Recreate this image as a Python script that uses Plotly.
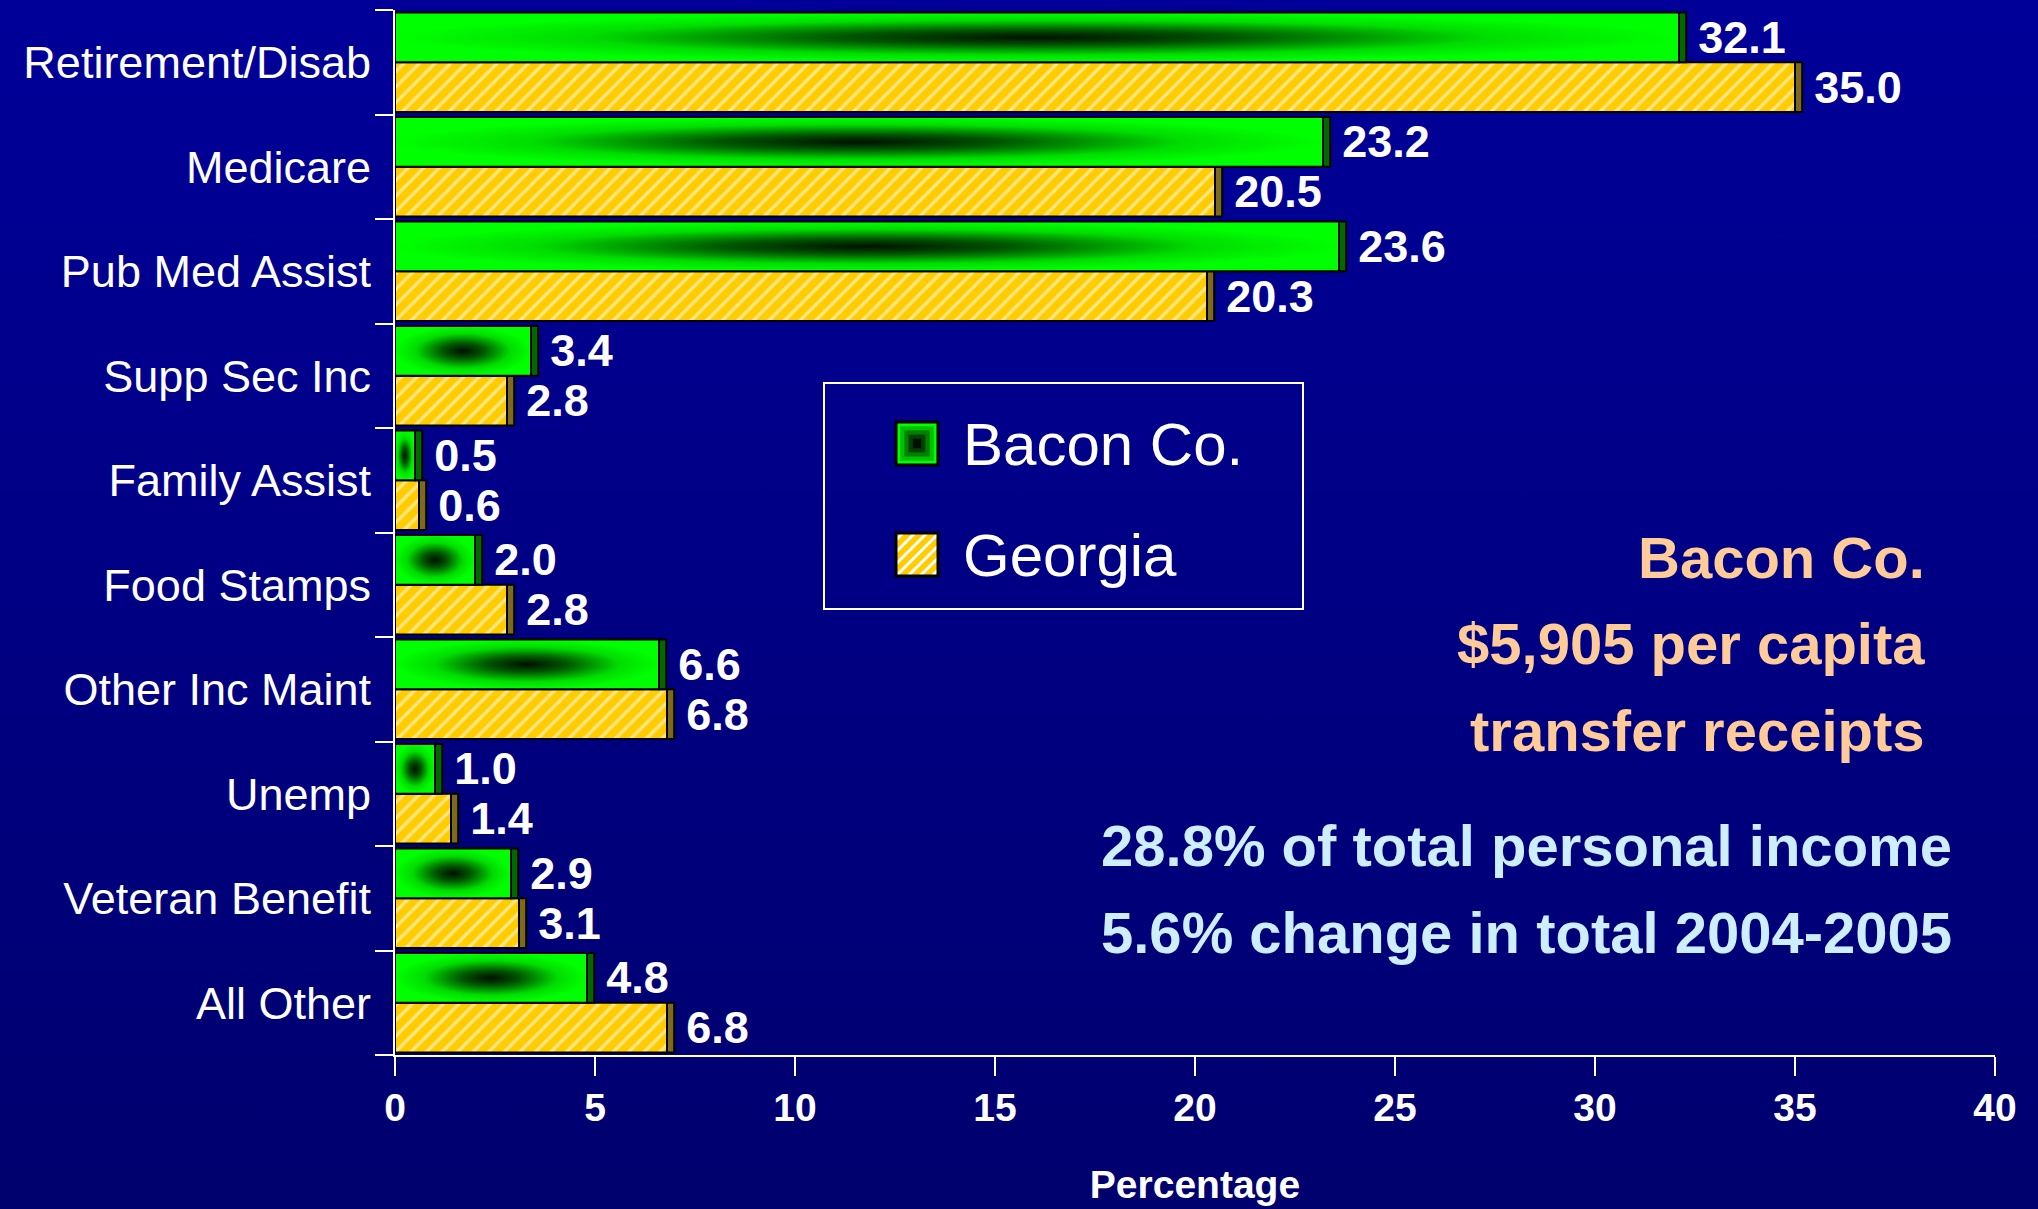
import base64
import plotly.graph_objects as go

# data
categories = ["Retirement/Disab", "Medicare", "Pub Med Assist", "Supp Sec Inc", "Family Assist",
              "Food Stamps", "Other Inc Maint", "Unemp", "Veteran Benefit", "All Other"]
bacon = [32.1, 23.2, 23.6, 3.4, 0.5, 2.0, 6.6, 1.0, 2.9, 4.8]
georgia = [35.0, 20.5, 20.3, 2.8, 0.6, 2.8, 6.8, 1.4, 3.1, 6.8]
x_ticks = [0, 5, 10, 15, 20, 25, 30, 35, 40]
notes_peach = ["Bacon Co.", "$5,905 per capita", "transfer receipts"]
notes_blue = ["28.8% of total personal income", "5.6% change in total 2004-2005"]

W, H = 2038, 1209
L, R, T, B = 395, 43, 10, 154
SANS = "Liberation Sans, Arial"
HALF = 0.475     # bar thickness (category units)
DEPTH = 0.18     # 3d side strip width (x units)

pos = list(range(len(categories)))


def px(x):
    return (x - L) / (W - L - R)


def py(y):
    return (H - B - y) / (H - T - B)


fig = go.Figure()

# main faces
fig.add_trace(go.Bar(y=pos, x=bacon, orientation="h", base=0, offset=-HALF, width=HALF,
                     marker=dict(color="#00ff00", line=dict(color="black", width=2)),
                     name="Bacon Co.", showlegend=False, hoverinfo="x"))
fig.add_trace(go.Bar(y=pos, x=georgia, orientation="h", base=0, offset=0, width=HALF,
                     marker=dict(color="#ffcc00", line=dict(color="black", width=2),
                                 pattern=dict(shape="/", fgcolor="white", bgcolor="#ffcc00",
                                              size=11, solidity=0.32)),
                     name="Georgia", showlegend=False, hoverinfo="x"))

# side strips (fake depth) carrying the value labels
fig.add_trace(go.Bar(y=pos, x=[DEPTH] * len(bacon), base=bacon, orientation="h",
                     offset=-HALF, width=HALF,
                     marker=dict(color="#006a00", line=dict(color="black", width=2)),
                     text=[f"\u2009{v:.1f}" for v in bacon], textposition="outside",
                     textfont=dict(family=SANS, size=45, color="white", weight="bold"),
                     constraintext="none", cliponaxis=False, showlegend=False, hoverinfo="skip"))
fig.add_trace(go.Bar(y=pos, x=[DEPTH] * len(georgia), base=georgia, orientation="h",
                     offset=0, width=HALF,
                     marker=dict(color="#7d6a1e", line=dict(color="black", width=2)),
                     text=[f"\u2009{v:.1f}" for v in georgia], textposition="outside",
                     textfont=dict(family=SANS, size=45, color="white", weight="bold"),
                     constraintext="none", cliponaxis=False, showlegend=False, hoverinfo="skip"))

# dark centre shading on the green bars
for i, v in zip(pos, bacon):
    fig.add_trace(go.Scatter(
        x=[0, v, v, 0, 0], y=[i - HALF, i - HALF, i, i, i - HALF],
        mode="lines", fill="toself", line=dict(color="black", width=2),
        fillgradient=dict(type="radial",
                          colorscale=[[0, "#001000"], [0.3, "#005500"],
                                      [0.7, "#00dd00"], [1, "#00ff00"]]),
        showlegend=False, hoverinfo="skip"))

# background gradient
svg = ('<svg xmlns="http://www.w3.org/2000/svg" width="%d" height="%d">'
       '<defs><linearGradient id="g" x1="0" y1="0" x2="0" y2="1">'
       '<stop offset="0" stop-color="#000099"/><stop offset="1" stop-color="#00006e"/>'
       '</linearGradient></defs><rect width="100%%" height="100%%" fill="url(#g)"/></svg>') % (W, H)
bg_src = "data:image/svg+xml;base64," + base64.b64encode(svg.encode()).decode()

shapes = []
# legend box
shapes.append(dict(type="rect", xref="paper", yref="paper", x0=px(824), x1=px(1303),
                   y0=py(609), y1=py(383), line=dict(color="white", width=2)))
# green swatch with darker centre
sw = (896, 938)
for k, col in enumerate(["#00ff00", "#00c000", "#008000", "#004000", "#001000"]):
    d = k * 4.2
    shapes.append(dict(type="rect", xref="paper", yref="paper",
                       x0=px(sw[0] + d), x1=px(sw[1] - d), y0=py(465 - d), y1=py(422 + d),
                       fillcolor=col, line=dict(width=0)))
shapes.append(dict(type="rect", xref="paper", yref="paper", x0=px(sw[0]), x1=px(sw[1]),
                   y0=py(465), y1=py(422), line=dict(color="black", width=3)))
# hatched swatch
gy0, gy1 = 533, 576
shapes.append(dict(type="rect", xref="paper", yref="paper", x0=px(sw[0]), x1=px(sw[1]),
                   y0=py(gy1), y1=py(gy0), fillcolor="#ffcc00", line=dict(width=0)))
c = sw[0] + gy0 + 7
while c < sw[1] + gy1:
    ya, yb = max(gy0, c - sw[1]), min(gy1, c - sw[0])
    shapes.append(dict(type="line", xref="paper", yref="paper",
                       x0=px(c - yb), y0=py(yb), x1=px(c - ya), y1=py(ya),
                       line=dict(color="white", width=3)))
    c += 12
shapes.append(dict(type="rect", xref="paper", yref="paper", x0=px(sw[0]), x1=px(sw[1]),
                   y0=py(gy1), y1=py(gy0), line=dict(color="black", width=3)))

annotations = [
    dict(text="Bacon Co.", x=px(961), y=py(445)),
    dict(text="Georgia", x=px(961), y=py(556)),
]
for a in annotations:
    a.update(xref="paper", yref="paper", xanchor="left", yanchor="middle", showarrow=False,
             font=dict(family=SANS, size=60, color="white"))
for txt, yc in zip(notes_peach, [557, 643, 730]):
    annotations.append(dict(text=txt, x=px(1927), y=py(yc), xref="paper", yref="paper",
                            xanchor="right", yanchor="middle", showarrow=False,
                            font=dict(family=SANS, size=58, color="#ffcc99", weight="bold")))
for txt, yc in zip(notes_blue, [845, 932]):
    annotations.append(dict(text=txt, x=px(1954), y=py(yc), xref="paper", yref="paper",
                            xanchor="right", yanchor="middle", showarrow=False,
                            font=dict(family=SANS, size=58, color="#cceeff", weight="bold")))

fig.update_layout(
    width=W, height=H, autosize=False,
    margin=dict(l=L, r=R, t=T, b=B, pad=0),
    paper_bgcolor="#000080", plot_bgcolor="rgba(0,0,0,0)",
    barmode="overlay",
    shapes=shapes, annotations=annotations,
    images=[dict(source=bg_src, xref="paper", yref="paper", x=px(0), y=py(0),
                 sizex=W / (W - L - R), sizey=H / (H - T - B), sizing="stretch",
                 xanchor="left", yanchor="top", layer="below")],
    xaxis=dict(range=[0, 40], tickvals=x_ticks, showgrid=False, zeroline=False,
               showline=True, linecolor="white", linewidth=2, automargin=False,
               ticks="outside", ticklen=19, tickwidth=2, tickcolor="white",
               ticklabelstandoff=-2,
               tickfont=dict(family=SANS, size=39, color="white", weight="bold"),
               title=dict(text="Percentage", standoff=43,
                          font=dict(family=SANS, size=39, color="white", weight="bold"))),
    yaxis=dict(range=[len(categories) - 0.5, -0.5], tickvals=pos, ticktext=categories,
               showgrid=False, zeroline=False, showline=True, linecolor="white", linewidth=2,
               ticks="", ticklabelstandoff=13, automargin=False,
               tickfont=dict(family=SANS, size=45, color="white"),
               minor=dict(tickvals=[p - 0.5 for p in pos] + [len(categories) - 0.5],
                          ticks="outside", ticklen=18, tickwidth=2, tickcolor="white",
                          showgrid=False)),
)

fig.write_html("out.html", config={"displayModeBar": False},
               post_script="document.body.style.margin='0';"
                           "document.body.style.background='#00006e';")
